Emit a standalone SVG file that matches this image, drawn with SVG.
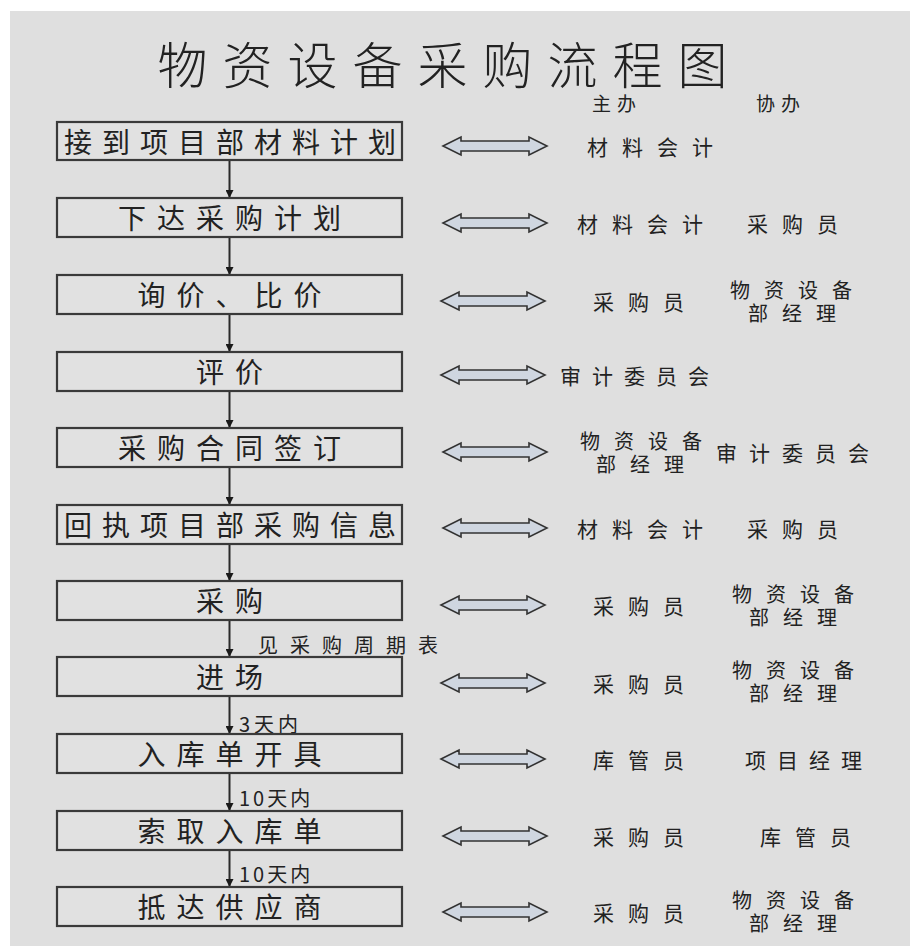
<svg xmlns="http://www.w3.org/2000/svg" width="910" height="946" viewBox="0 0 910 946">
<style>
text{font-family:"Noto Sans CJK SC","Noto Sans CJK JP",sans-serif;fill:#222;dominant-baseline:central}
.title{font-size:50px;letter-spacing:15px;text-anchor:middle;font-weight:300}
.hd{font-size:19px;letter-spacing:6px}
.bt{font-size:28px;letter-spacing:11px;text-anchor:middle}
.lb{font-size:21px;letter-spacing:14px}
.lb2{font-size:21px;letter-spacing:11px}
.l2{font-size:20px;letter-spacing:14px}
.cl{font-size:20px;letter-spacing:12px}
.box{fill:#e1e1e1;stroke:#3a3a3a;stroke-width:2.2}
.conn line{stroke:#2a2a2a;stroke-width:2;marker-end:url(#ah)}
.dbl{fill:#cfd6e0;stroke:#333;stroke-width:1.6;stroke-linejoin:miter}
</style>
<defs>
<marker id="ah" markerWidth="8" markerHeight="8" refX="8" refY="4" orient="auto" markerUnits="userSpaceOnUse">
<path d="M0,0 L8,4 L0,8 Z" fill="#1a1a1a"/>
</marker>
<path id="dbl" class="dbl" d="M0,0 L18,-9 L18,-5 L86,-5 L86,-9 L104,0 L86,9 L86,5 L18,5 L18,9 Z"/>
</defs>
<rect x="10" y="11" width="900" height="935" fill="#dfdfdf"/>
<text class="title" x="450" y="62">物资设备采购流程图</text>
<text class="hd" x="592" y="102">主办</text>
<text class="hd" x="756" y="102">协办</text>

<g class="conn" id="connectors">
<line x1="229.5" y1="161" x2="229.5" y2="198"/>
<line x1="229.5" y1="237" x2="229.5" y2="275"/>
<line x1="229.5" y1="314" x2="229.5" y2="352"/>
<line x1="229.5" y1="391" x2="229.5" y2="428"/>
<line x1="229.5" y1="467" x2="229.5" y2="505"/>
<line x1="229.5" y1="544" x2="229.5" y2="581"/>
<line x1="229.5" y1="620" x2="229.5" y2="657"/>
<line x1="229.5" y1="696" x2="229.5" y2="734"/>
<line x1="229.5" y1="773" x2="229.5" y2="811"/>
<line x1="229.5" y1="850" x2="229.5" y2="887"/>
<text class="cl" x="258" y="644">见采购周期表</text>
<text class="cl" x="239" y="723" style="letter-spacing:4px">3天内</text>
<text class="cl" x="239" y="797" style="letter-spacing:3px">10天内</text>
<text class="cl" x="239" y="873" style="letter-spacing:3px">10天内</text>
</g>

<g id="n1"><rect class="box" x="57" y="122" width="345" height="38"/><text class="bt" x="235" y="141" style="letter-spacing:10px">接到项目部材料计划</text>
<use href="#dbl" x="443" y="146"/><text class="lb" x="587" y="146">材料会计</text></g>

<g id="n2"><rect class="box" x="57" y="198" width="345" height="39"/><text class="bt" x="235" y="217">下达采购计划</text>
<use href="#dbl" x="443" y="223"/><text class="lb" x="577" y="223">材料会计</text><text class="lb" x="747" y="223">采购员</text></g>

<g id="n3"><rect class="box" x="57" y="275" width="345" height="39"/><text class="bt" x="235" y="294">询价、比价</text>
<use href="#dbl" x="441" y="301"/><text class="lb" x="593" y="301">采购员</text><text class="l2" x="730" y="289">物资设备</text><text class="l2" x="748" y="312">部经理</text></g>

<g id="n4"><rect class="box" x="57" y="352" width="345" height="39"/><text class="bt" x="235" y="371">评价</text>
<use href="#dbl" x="441" y="375"/><text class="lb2" x="560" y="375">审计委员会</text></g>

<g id="n5"><rect class="box" x="57" y="428" width="345" height="39"/><text class="bt" x="235" y="447">采购合同签订</text>
<use href="#dbl" x="443" y="452"/><text class="l2" x="580" y="440">物资设备</text><text class="l2" x="596" y="463">部经理</text><text class="lb2" x="716" y="452" style="letter-spacing:12px">审计委员会</text></g>

<g id="n6"><rect class="box" x="57" y="505" width="345" height="39"/><text class="bt" x="235" y="524" style="letter-spacing:10px">回执项目部采购信息</text>
<use href="#dbl" x="443" y="528"/><text class="lb" x="577" y="528">材料会计</text><text class="lb" x="747" y="528">采购员</text></g>

<g id="n7"><rect class="box" x="57" y="581" width="345" height="39"/><text class="bt" x="235" y="600">采购</text>
<use href="#dbl" x="441" y="605"/><text class="lb" x="593" y="605">采购员</text><text class="l2" x="732" y="593">物资设备</text><text class="l2" x="749" y="616">部经理</text></g>

<g id="n8"><rect class="box" x="57" y="657" width="345" height="39"/><text class="bt" x="235" y="676">进场</text>
<use href="#dbl" x="441" y="683"/><text class="lb" x="593" y="683">采购员</text><text class="l2" x="732" y="669">物资设备</text><text class="l2" x="749" y="692">部经理</text></g>

<g id="n9"><rect class="box" x="57" y="734" width="345" height="39"/><text class="bt" x="235" y="753">入库单开具</text>
<use href="#dbl" x="441" y="759"/><text class="lb" x="593" y="759">库管员</text><text class="lb2" x="745" y="759">项目经理</text></g>

<g id="n10"><rect class="box" x="57" y="811" width="345" height="39"/><text class="bt" x="235" y="830">索取入库单</text>
<use href="#dbl" x="443" y="836"/><text class="lb" x="593" y="836">采购员</text><text class="lb" x="760" y="836">库管员</text></g>

<g id="n11"><rect class="box" x="57" y="887" width="345" height="39"/><text class="bt" x="235" y="906">抵达供应商</text>
<use href="#dbl" x="443" y="912"/><text class="lb" x="593" y="912">采购员</text><text class="l2" x="732" y="899">物资设备</text><text class="l2" x="749" y="922">部经理</text></g>
</svg>
